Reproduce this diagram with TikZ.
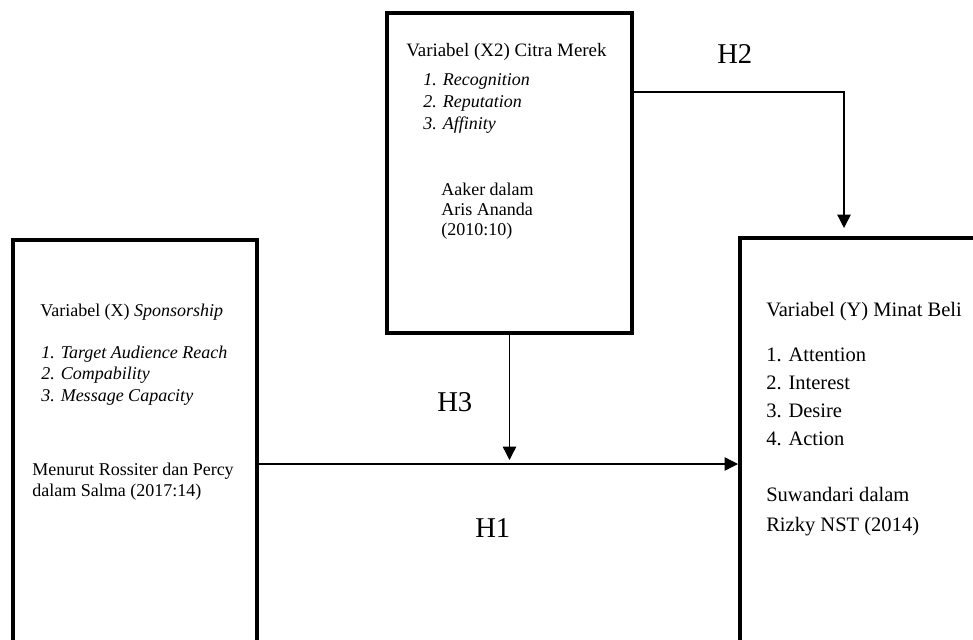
\documentclass[tikz,border=0pt]{standalone}
\usepackage{fontspec}
\setmainfont{Liberation Serif}
\usepackage{tikz}
\usetikzlibrary{arrows.meta,positioning,calc}
\tikzstyle{varbox} = [rectangle, draw, line width=3pt, inner sep=0pt]
\tikzstyle{txt}    = [inner sep=0pt, align=left, anchor=base west]
\tikzstyle{txtL}   = [txt, font=\fontsize{13.5}{16}\selectfont]
\tikzstyle{txtM}   = [txt, font=\fontsize{14.2}{16.5}\selectfont]
\tikzstyle{txtR}   = [txt, font=\fontsize{15.4}{21}\selectfont]
\tikzstyle{hlabel} = [inner sep=0pt, anchor=base west, font=\fontsize{21.5}{24}\selectfont]
\tikzstyle{link}   = [line width=1pt, -{Triangle[width=10pt,length=10pt]}]

\begin{document}
\begin{tikzpicture}[x=0.75pt, y=-0.75pt]

  \useasboundingbox (0,0) rectangle (973,639);
  \clip (0,0) rectangle (973,639);

  % variable boxes (sizes in pt)
  \node[varbox, minimum width=183pt, minimum height=336pt] (sp) at (135,464) {};
  \node[varbox, minimum width=183.75pt, minimum height=240pt] (cm) at (509.5,173) {};
  \node[varbox, minimum width=240pt, minimum height=339pt] (mb) at (900,464) {};

  % Sponsorship (multi-line nodes sit on their last line)
  \node[txtL] (spHead) at ($(sp.north west)+(29,78)$) {Variabel (X) \textit{Sponsorship}};
  \node[txtL, font=\fontsize{13.5}{16.1}\selectfont\itshape] (spList) at ($(sp.north west)+(30,163)$)
    {1. Target Audience Reach\\2. Compability\\3. Message Capacity};
  \node[txtL, font=\fontsize{13.5}{15.75}\selectfont] (spSrc) at ($(sp.north west)+(21,258)$)
    {Menurut Rossiter dan Percy\\dalam Salma (2017:14)};

  % Citra Merek
  \node[txtM] (cmHead) at ($(cm.north west)+(21,45)$) {Variabel (X2) Citra Merek};
  \node[txtM, font=\fontsize{13.5}{16.5}\selectfont\itshape] (cmList) at ($(cm.north west)+(38,118)$)
    {1. Recognition\\2. Reputation\\3. Affinity};
  \node[txtM, font=\fontsize{13.5}{15}\selectfont] (cmSrc) at ($(cm.north west)+(56,224)$)
    {Aaker dalam\\Aris Ananda\\(2010:10)};

  % Minat Beli
  \node[txtR] (mbHead) at ($(mb.north west)+(28,80)$) {Variabel (Y) Minat Beli};
  \node[txtR] (mbList) at ($(mb.north west)+(28,209)$)
    {1. Attention\\2. Interest\\3. Desire\\4. Action};
  \node[txtR, font=\fontsize{15.4}{22.5}\selectfont] (mbSrc) at ($(mb.north west)+(28,295)$)
    {Suwandari dalam\\Rizky NST (2014)};

  % hypotheses
  \coordinate (h3end) at (cm.south |- sp.east);
  \draw[link] (sp.east) -- (mb.west);
  \draw[link, shorten >=3pt] (cm.south) -- (h3end);
  \draw[link, shorten >=6pt] ($(cm.north east)!0.25!(cm.south east)$) -| ($(mb.north west)+(106,0)$);

  \node[hlabel] (h1) at (475,537) {H1};
  \node[hlabel] (h2) at (717,63) {H2};
  \node[hlabel] (h3) at (437,411) {H3};

\end{tikzpicture}
\end{document}
